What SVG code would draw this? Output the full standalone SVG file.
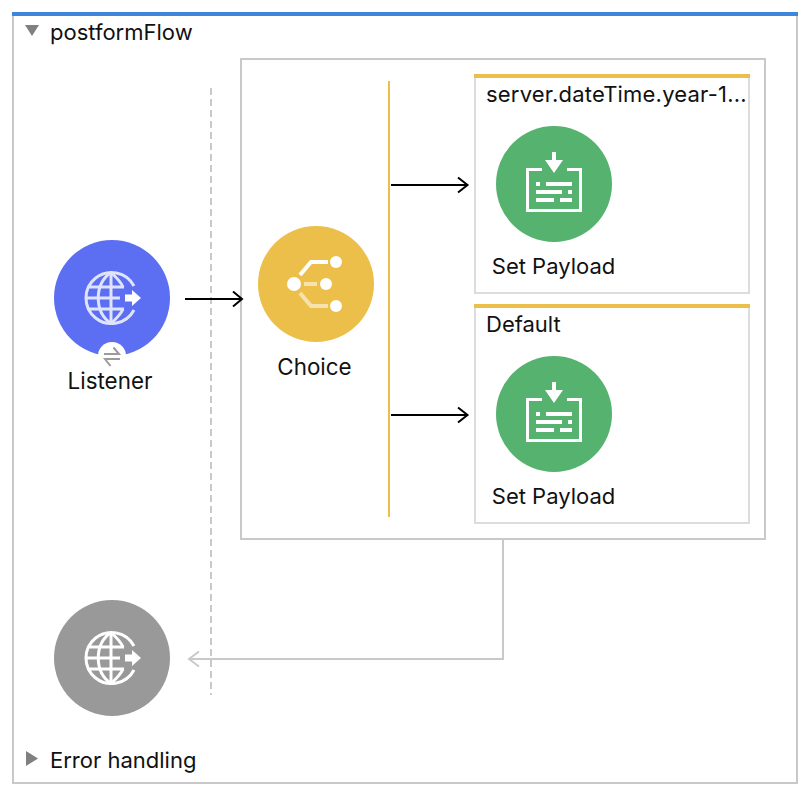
<svg xmlns="http://www.w3.org/2000/svg" width="806" height="788" viewBox="0 0 806 788">
<style>
text{font-family:Inter,"Liberation Sans",sans-serif;font-size:22px;fill:#111}
.big{font-size:22.4px}
.frame{fill:#fff;stroke:#c9c9c9;stroke-width:2}
.scope{fill:#fff;stroke:#dcdcdc;stroke-width:2}
.bar{fill:#ebbf4a}
.ln{fill:none;stroke:#000;stroke-width:2}
.gl{fill:none;stroke-width:3}
</style>
<defs>
<g id="globe">
<path class="gl" d="M23 -12A25.500 25.500 0 1 0 23 12"/>
<path class="gl" d="M0 -25.500C-17 -14 -17 14 0 25.500M0 -25.500C6 -20 10 -16 12 -11M0 25.500C6 20 10 16 12 11"/>
<path class="gl" d="M0 -25.500V25.500M-25 0H9M-23 -11H13M-23 11H13"/>
</g>
<path id="globe-arrow" d="M14 -3.500H21V-8L30 0L21 8V3.500H14Z" fill="#fff"/>
<g id="payload" fill="#fff">
<path d="M-28 -16H-12V-13H-25V25H25V-13H13V-16H28V28H-28Z"/>
<path d="M-2 -32H2V-24H9L0 -11L-9 -24H-2Z"/>
<rect x="-18" y="-2" width="4" height="4"/><rect x="-8" y="-2" width="26" height="4"/>
<rect x="-18" y="6" width="26" height="4"/><rect x="14" y="6" width="4" height="4"/>
<rect x="-18" y="14" width="18" height="4"/><rect x="6" y="14" width="12" height="4"/>
</g>
</defs>

<g id="flow">
<rect class="frame" x="13" y="15" width="784" height="768"/>
<rect x="12" y="12" width="786" height="4" fill="#3d86dc"/>
<path d="M25 25H39L32 36Z" fill="#808080"/>
<text x="50" y="40">postformFlow</text>
<path d="M26 751L38 758.500L26 766Z" fill="#808080"/>
<text x="50" y="768">Error handling</text>
</g>

<g id="choice-scope">
<rect class="frame" x="241" y="59" width="524" height="480"/>
<line x1="389" y1="81" x2="389" y2="517" stroke="#ebbf4a" stroke-width="2"/>
</g>

<g id="connectors">
<line x1="211" y1="88" x2="211" y2="695" stroke="#c9c9c9" stroke-width="2" stroke-dasharray="7 4"/>
<path class="ln" d="M185 299H241.500M233 291.500L242 299L233 306.500"/>
<path class="ln" d="M391 185H467M458 177.500L467.500 185L458 192.500"/>
<path class="ln" d="M391 415H467M458 407.500L467.500 415L458 422.500"/>
<path d="M503 540V659H189M199 651.500L189 659L199 666.500" fill="none" stroke="#c9c9c9" stroke-width="2"/>
</g>

<g id="listener">
<circle cx="112" cy="298" r="58" fill="#5c6ff2"/>
<circle cx="112" cy="356" r="14" fill="#fff"/>
<use href="#globe" x="111" y="298" stroke="#dfe3fb"/>
<use href="#globe-arrow" x="111" y="298"/>
<path d="M104 354H119L113.500 347.500M120 359H105L110.500 366" fill="none" stroke="#9b9b9b" stroke-width="2"/>
<text class="big" x="110" y="388.500" text-anchor="middle">Listener</text>
</g>

<g id="choice">
<circle cx="316" cy="284" r="58" fill="#ebbf4a"/>
<path d="M300 275L311 262H328" fill="none" stroke="#fff" stroke-width="4"/>
<path d="M300 293L311 306H328M304 284H317" fill="none" stroke="#f6e2ad" stroke-width="4"/>
<circle cx="294" cy="284" r="7" fill="#fff"/>
<circle cx="336" cy="262" r="6" fill="#fff"/>
<circle cx="326" cy="284" r="6" fill="#fff"/>
<circle cx="336" cy="306" r="6" fill="#fff"/>
<text class="big" x="314.500" y="374.500" text-anchor="middle">Choice</text>
</g>

<g id="route-1">
<rect class="scope" x="475" y="75" width="274" height="218"/>
<rect class="bar" x="474" y="74" width="276" height="4"/>
<text x="486" y="102" letter-spacing="0.2">server.dateTime.year-1...</text>
<circle cx="554" cy="184" r="58" fill="#56b26f"/>
<use href="#payload" x="554" y="184"/>
<text x="553.500" y="274" text-anchor="middle">Set Payload</text>
</g>

<g id="route-default">
<rect class="scope" x="475" y="305" width="274" height="218"/>
<rect class="bar" x="474" y="304" width="276" height="4"/>
<text x="486" y="332">Default</text>
<circle cx="554" cy="414" r="58" fill="#56b26f"/>
<use href="#payload" x="554" y="414"/>
<text x="553.500" y="504" text-anchor="middle">Set Payload</text>
</g>

<g id="response">
<circle cx="112" cy="658" r="58" fill="#999"/>
<use href="#globe" x="111" y="658" stroke="#fff"/>
<use href="#globe-arrow" x="111" y="658"/>
</g>
</svg>
